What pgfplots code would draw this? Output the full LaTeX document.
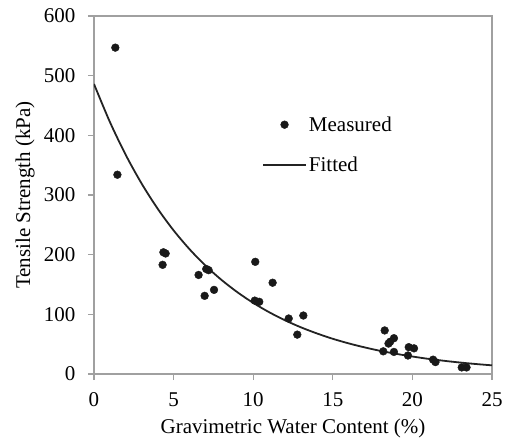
\documentclass[border=0pt]{standalone}
\usepackage{fontspec}
\setmainfont{Liberation Serif}
\usepackage{pgfplots}
\pgfplotsset{compat=1.18}
\definecolor{axgray}{RGB}{160,160,160}
\definecolor{dotc}{RGB}{25,25,25}
\definecolor{linec}{RGB}{35,35,35}
\begin{document}
\begin{tikzpicture}
\path[use as bounding box] (-94bp,-67bp) rectangle (411bp,374bp);
\begin{axis}[
  at={(0,0)}, anchor=south west,
  width=398bp, height=358bp, scale only axis,
  xmin=0, xmax=25, ymin=0, ymax=600,
  xtick={0,5,10,15,20,25}, ytick={0,100,200,300,400,500,600},
  xtick pos=bottom, ytick pos=left,
  tick align=outside, major tick length=6bp,
  axis line style={draw=axgray, line width=1.3bp},
  tick style={draw=axgray, line width=1.3bp},
  font=\fontsize{21bp}{25bp}\selectfont,
  /pgf/number format/assume math mode=true,
  xticklabel style={yshift=-9bp},
  yticklabel style={xshift=-9bp},
  xlabel={Gravimetric Water Content (\%)},
  ylabel={Tensile Strength (kPa)},
  xlabel style={at={(axis description cs:0.5,-0.153)}, anchor=center},
  ylabel style={at={(axis description cs:-0.173,0.5)}, anchor=center, rotate=0},
  legend style={at={(axis description cs:0.422,0.725)}, anchor=north west, draw=none, fill=none,
    row sep=20bp, inner sep=0pt, font=\fontsize{21bp}{25bp}\selectfont},
  legend cell align=left,
]
\addplot[only marks, mark=*, mark size=3.9bp, color=dotc,
  legend image code/.code={\path[draw=none,fill=none] (0bp,0bp) -- (43bp,0bp); \fill[dotc] (21.5bp,0bp) circle (3.9bp);}]
coordinates {
(1.34,547) (1.47,334) (4.36,204) (4.50,202) (4.31,183) (6.57,166) (7.05,176) (7.20,174)
(6.95,131) (7.54,141) (10.13,188) (10.10,123) (10.38,121) (11.22,153) (12.23,93) (13.15,98)
(12.77,66) (18.26,73) (18.17,38) (18.50,51) (18.60,54) (18.84,60) (18.84,37) (19.77,45)
(20.10,43) (19.72,31) (21.30,24) (21.45,20) (23.10,11) (23.40,11)
};
\addlegendentry{Measured}
\addplot[color=linec, line width=1.8bp, smooth, no marks,
  legend image code/.code={\draw[linec, line width=1.8bp] (0bp,0bp) -- (43bp,0bp);}]
coordinates {
(0,486) (1,422.3) (2,366.9) (3,318.8) (4,277.0) (5,240.7) (6,209.2) (7,181.7) (8,157.9)
(9,137.2) (10,119.2) (11,103.6) (12,90.0) (13,78.2) (14,68.0) (15,59.0) (16,51.3)
(17,44.6) (18,38.7) (19,33.7) (20,29.3) (21,25.4) (22,22.1) (23,19.2) (24,16.7) (25,14.5)
};
\addlegendentry{Fitted}
\end{axis}
\end{tikzpicture}
\end{document}
